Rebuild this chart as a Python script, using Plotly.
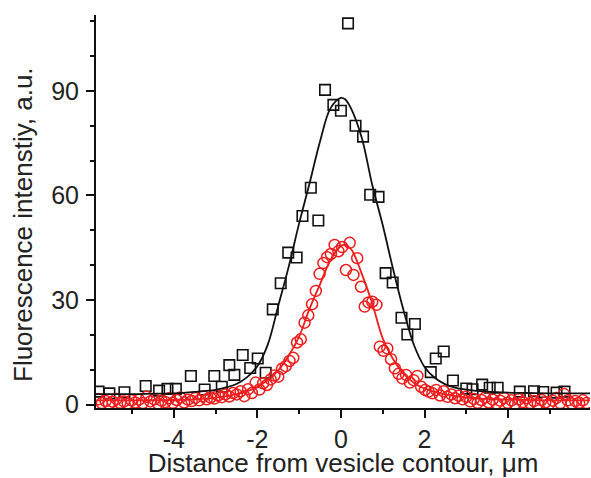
import plotly.graph_objects as go

# Black squares (measured)
black_x = [-5.80, -5.54, -5.18, -4.67, -4.35, -4.15, -3.95, -3.59, -3.26, -3.03, -2.85, -2.67,
           -2.55, -2.35, -2.17, -1.99, -1.80, -1.63, -1.44, -1.26, -1.06, -0.92, -0.72, -0.54,
           -0.38, -0.18, 0.00, 0.17, 0.35, 0.53, 0.70, 0.90, 1.07, 1.24, 1.45, 1.59, 1.77,
           2.15, 2.27, 2.46, 2.68, 3.00, 3.15, 3.38, 3.56, 3.75, 4.28, 4.62, 4.84, 5.16, 5.35]
black_y = [3.7, 3.2, 3.5, 5.3, 4.0, 4.5, 4.5, 8.2, 4.3, 8.2, 5.1, 11.3,
           8.5, 14.2, 10.5, 13.2, 9.1, 27.3, 34.8, 43.6, 42.2, 54.1, 62.2, 52.8,
           90.3, 86.0, 84.3, 109.4, 80.0, 76.9, 60.2, 59.6, 37.7, 35.0, 24.9, 20.1, 23.1,
           9.3, 13.2, 15.2, 6.9, 4.6, 4.4, 5.7, 4.8, 4.8, 3.7, 3.8, 3.6, 3.4, 3.7]

# Red circles (measured)
red_x = [-5.80, -5.72, -5.63, -5.55, -5.46, -5.37, -5.28, -5.19, -5.10, -5.01, -4.92, -4.83,
         -4.74, -4.65, -4.56, -4.47, -4.38, -4.29, -4.20, -4.11, -4.02, -3.93, -3.84, -3.75,
         -3.66, -3.57, -3.48, -3.39, -3.30, -3.21, -3.12, -3.03, -2.94, -2.85, -2.76, -2.67,
         -2.58, -2.49, -2.40, -2.31, -2.22, -2.13, -2.04, -1.95, -1.86, -1.77, -1.68, -1.59,
         -1.50, -1.41, -1.32, -1.23, -1.14, -1.05, -0.96, -0.87, -0.78, -0.69, -0.60, -0.51,
         -0.42, -0.33, -0.24, -0.15, -0.06, 0.03, 0.12, 0.21, 0.30, 0.39, 0.48, 0.57,
         0.66, 0.75, 0.85, 0.93, 1.02, 1.11, 1.20, 1.29, 1.38, 1.47, 1.56, 1.65,
         1.74, 1.83, 1.92, 2.01, 2.10, 2.19, 2.28, 2.37, 2.46, 2.55, 2.64, 2.73,
         2.82, 2.91, 3.00, 3.09, 3.18, 3.27, 3.36, 3.45, 3.54, 3.63, 3.72, 3.81,
         3.90, 3.99, 4.08, 4.17, 4.26, 4.35, 4.44, 4.53, 4.62, 4.71, 4.80, 4.89,
         4.98, 5.07, 5.16, 5.25, 5.34, 5.43, 5.52, 5.61, 5.70, 5.79, 5.88]
red_y = [1.5, 0.4, 1.0, 0.2, 0.8, 1.6, 0.5, 0.9, 0.3, 1.2, 0.6, 1.4,
         0.4, 2.2, 0.9, 1.5, 0.3, 1.1, 0.7, 1.8, 0.5, 1.3, 2.0, 0.6,
         1.4, 1.0, 1.9, 1.2, 2.4, 1.5, 2.0, 1.7, 2.6, 2.1, 2.9, 2.3,
         3.3, 2.9, 3.8, 2.4, 4.4, 3.3, 6.3, 4.3, 6.1, 5.6, 7.2, 8.3,
         8.0, 10.3, 11.0, 12.5, 13.4, 17.8, 18.7, 23.5, 25.6, 28.8, 32.6, 37.5,
         40.6, 42.3, 43.2, 45.8, 44.0, 45.2, 38.6, 46.4, 37.2, 42.0, 33.8, 28.1,
         29.3, 29.5, 28.6, 16.6, 15.4, 16.1, 13.0, 10.4, 8.8, 7.5, 8.5, 6.3,
         7.0, 8.2, 5.1, 4.2, 3.7, 3.2, 4.2, 2.6, 3.8, 2.2, 2.9, 1.8,
         2.5, 1.5, 2.2, 0.9, 1.6, 0.5, 1.3, 2.0, 0.6, 1.4, 0.3, 1.1,
         1.9, 0.5, 1.2, 0.2, 1.5, 0.7, 1.8, 0.4, 1.0, 0.2, 1.3, 0.6,
         0.1, 1.1, 1.9, 0.4, 3.0, 1.2, 0.3, 1.0, 0.5, 1.2, 0.4]

# Fit curves
black_fit_x = [-5.86, -5.0, -4.5, -4.0, -3.5, -3.0, -2.75, -2.5, -2.25, -2.0, -1.75, -1.5, -1.25,
               -1.0, -0.75, -0.5, -0.25, 0.0, 0.1, 0.25, 0.5, 0.75, 1.0, 1.25, 1.5, 1.75,
               2.0, 2.25, 2.5, 2.75, 3.0, 3.5, 4.0, 4.5, 5.0, 5.96]
black_fit_y = [3.0, 3.0, 3.1, 3.2, 3.6, 4.2, 4.9, 5.9, 7.8, 11.0, 17.2, 28.3, 39.5,
               52.0, 63.5, 75.5, 85.0, 88.0, 87.6, 84.8, 76.5, 63.0, 51.5, 38.8, 27.0, 17.0,
               10.8, 7.6, 5.8, 4.8, 4.3, 3.7, 3.4, 3.3, 3.2, 3.2]

red_fit_x = [-5.86, -5.0, -4.0, -3.5, -3.0, -2.5, -2.25, -2.0, -1.75, -1.5, -1.25, -1.0,
             -0.75, -0.5, -0.25, 0.0, 0.1, 0.25, 0.5, 0.75, 1.0, 1.25, 1.5, 1.75, 2.0,
             2.25, 2.5, 3.0, 3.5, 4.0, 5.0, 5.96]
red_fit_y = [1.2, 1.2, 1.3, 1.5, 2.0, 3.0, 3.8, 5.1, 7.0, 9.8, 14.0, 19.5,
             27.5, 34.5, 41.5, 45.5, 45.8, 44.5, 37.5, 29.0, 19.0, 13.0, 8.8, 6.2, 4.6,
             3.6, 2.9, 2.0, 1.6, 1.4, 1.2, 1.2]

x_tickvals = [-4, -2, 0, 2, 4]
x_ticktext = ["-4", "-2", "0", "2", "4"]
y_tickvals = [0, 30, 60, 90]
y_ticktext = ["0", "30", "60", "90"]

RED = "#ee1c1c"
fig = go.Figure()
fig.add_trace(go.Scatter(x=black_x, y=black_y, mode="markers",
                         marker=dict(symbol="square-open", size=10.5, color="#111111",
                                     line=dict(width=1.6, color="#111111")),
                         showlegend=False))
fig.add_trace(go.Scatter(x=red_x, y=red_y, mode="markers",
                         marker=dict(symbol="circle-open", size=11, color=RED,
                                     line=dict(width=1.5, color=RED)),
                         showlegend=False))
fig.add_trace(go.Scatter(x=black_fit_x, y=black_fit_y, mode="lines",
                         line=dict(color="#111111", width=1.8, shape="spline", smoothing=1.0),
                         showlegend=False))
fig.add_trace(go.Scatter(x=red_fit_x, y=red_fit_y, mode="lines",
                         line=dict(color=RED, width=1.8, shape="spline", smoothing=1.0),
                         showlegend=False))

font_family = "Liberation Sans, Arial, sans-serif"
fig.update_layout(
    width=591, height=478,
    margin=dict(l=96, r=1, t=15, b=70),
    paper_bgcolor="white", plot_bgcolor="white",
    font=dict(family=font_family, color="#222222"),
    xaxis=dict(
        range=[-5.86, 5.96], showgrid=False, zeroline=False, automargin=False,
        showline=True, linecolor="#111111", linewidth=2,
        ticks="outside", ticklen=8, tickwidth=2, tickcolor="#111111",
        tickvals=x_tickvals, ticktext=x_ticktext,
        tickfont=dict(size=25, family=font_family, color="#222222"),
        minor=dict(ticks="outside", ticklen=4, tickwidth=2, tickcolor="#111111", dtick=1, tick0=0),
        title=dict(text="Distance from vesicle contour, μm",
                   font=dict(size=26, family=font_family, color="#222222")),
    ),
    yaxis=dict(
        range=[-1.0, 111.8], showgrid=False, zeroline=False, automargin=False,
        showline=True, linecolor="#111111", linewidth=2,
        ticks="outside", ticklen=8, tickwidth=2, tickcolor="#111111",
        tickvals=y_tickvals, ticktext=y_ticktext, ticklabelstandoff=2,
        tickfont=dict(size=25, family=font_family, color="#222222"),
        minor=dict(ticks="outside", ticklen=4, tickwidth=2, tickcolor="#111111", dtick=10, tick0=0),
    ),
    annotations=[dict(
        text="Fluorescence intenstiy, a.u.", textangle=-90,
        xref="paper", yref="paper", x=(23 - 96) / 494, y=(408 - 225) / 393,
        xanchor="center", yanchor="middle", showarrow=False,
        font=dict(size=26, family=font_family, color="#222222"),
    )],
)

fig.write_html("out.html", config={"displayModeBar": False},
               post_script="document.body.style.margin='0';document.body.style.overflow='hidden';")
